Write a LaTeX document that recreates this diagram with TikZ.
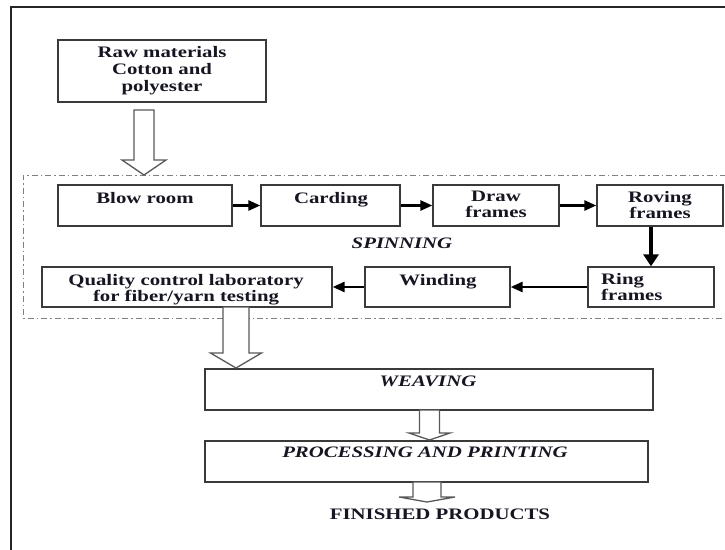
\documentclass[tikz,border=0pt]{standalone}
\usepackage{fontspec}
\setmainfont{Liberation Serif}[FakeStretch=1.3]
\usetikzlibrary{arrows.meta,calc}
\definecolor{linegray}{HTML}{3A3A3A}
\definecolor{inkc}{HTML}{161622}
\newcommand\hollowarrow[6]{% xc, ytop, yneck, ytip, halfshaft, halfhead
  \draw[harrow] (#1-#5,#2) -- (#1-#5,#3) -- (#1-#6,#3) -- (#1,#4) -- (#1+#6,#3) -- (#1+#5,#3) -- (#1+#5,#2) -- cycle;}
\begin{document}
\begin{tikzpicture}[x=1pt,y=-1pt,
  font=\fontsize{16}{17}\selectfont\bfseries, text=inkc,
  box/.style={draw=linegray, line width=1.3pt, inner sep=0pt, rectangle},
  lbl/.style={inner sep=0pt, anchor=north, align=center},
  ital/.style={font=\fontsize{16}{17}\selectfont\bfseries\itshape},
  flow/.style={line width=2.6pt, black, -{Triangle[length=12pt,width=10pt]}},
  harrow/.style={draw=linegray!85, line width=1.3pt, fill=white},
  frame/.style={line width=2pt, black!85},
  spin/.style={draw=gray, line width=1pt, dash pattern=on 6pt off 3pt on 1.5pt off 3pt}]
\useasboundingbox (0,0) rectangle (725,549);

% outer frame
\draw[frame] (726,7) -- (11,7) -- (11,550);

% spinning region
\draw[spin] (726,175) -- (23,175) -- (23,318) -- (726,318);

% raw materials
\node[box, minimum width=208pt, minimum height=62pt, align=center] (raw) at (162,71)
  {Raw materials\\Cotton and\\polyester};
\hollowarrow{144}{110}{160}{175}{10}{22}

% spinning boxes
\node[box, minimum width=174pt, minimum height=41pt] (blow) at (145,205.5) {};
\node[box, minimum width=139pt, minimum height=41pt] (card) at (330.5,205.5) {};
\node[box, minimum width=126pt, minimum height=41pt] (draw) at (496,205.5) {};
\node[box, minimum width=126pt, minimum height=41pt] (rov) at (660,205.5) {};
\node[box, minimum width=126pt, minimum height=40pt] (ring) at (651,287) {};
\node[box, minimum width=145pt, minimum height=40pt] (wind) at (437.5,287) {};
\node[box, minimum width=290pt, minimum height=40pt] (qc) at (187,287) {};

\node[lbl] (tblow) at (145,192) {Blow room};
\node[lbl] (tcard) at (331,192) {Carding};
\node[lbl, font=\fontsize{16}{16}\selectfont\bfseries] (tdraw) at (496,191) {Draw\\frames};
\node[lbl, font=\fontsize{16}{16}\selectfont\bfseries] (trov) at (660,191) {Roving\\frames};
\node[lbl, anchor=north west, align=left, font=\fontsize{16}{16}\selectfont\bfseries] (tring) at (601,273) {Ring\\frames};
\node[lbl] (twind) at (438,274) {Winding};
\node[lbl, font=\fontsize{16}{16}\selectfont\bfseries] (tqc) at (186,274) {Quality control laboratory\\for fiber/yarn testing};
\node[lbl, ital] (tspin) at (402,238) {SPINNING};

\draw[flow] (blow.east) -- (card.west);
\draw[flow] (card.east) -- (draw.west);
\draw[flow] (draw.east) -- (rov.west);
\draw[line width=3.5pt, black, -{Triangle[length=12pt,width=15pt]}] (rov.south -| ring.north) -- (ring.north);
\draw[flow] (ring.west) -- (wind.east);
\draw[flow] (wind.west) -- (qc.east);

% lower chain
\node[box, minimum width=448pt, minimum height=41pt] (weave) at (429,389.5) {};
\node[box, minimum width=443pt, minimum height=41pt] (proc) at (426.5,461.5) {};
\node[lbl, ital] (tweave) at (428,376) {WEAVING};
\node[lbl, ital] (tproc) at (425,447) {PROCESSING AND PRINTING};
\node[lbl] (fin) at (440,509) {FINISHED PRODUCTS};

\hollowarrow{236}{307}{353}{368}{13}{25.5}
\hollowarrow{429.5}{410}{433}{440}{10}{20.5}
\hollowarrow{427}{482}{497}{502}{14}{28}
\end{tikzpicture}
\end{document}
